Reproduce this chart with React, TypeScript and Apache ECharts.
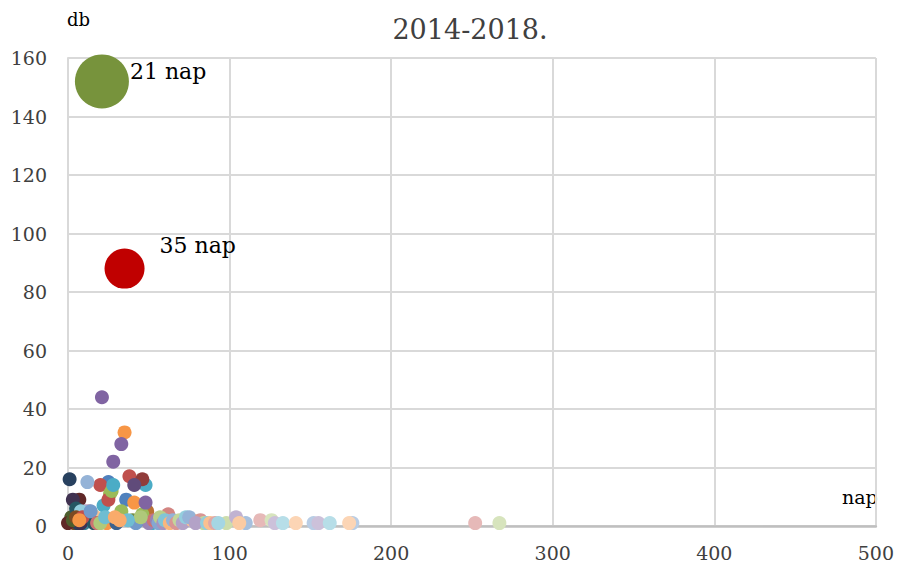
import React, { useEffect, useRef } from "react";
import * as echarts from "echarts";

// Days (x) and counts (y) for every small point (Excel-style point order)
const days = [
  1, 7, 2, 3, 5, 4,
  25, 20, 26, 21, 22, 24,
  12, 13, 15, 11, 8, 17,
  19, 25, 27, 28, 28, 35,
  36, 38, 33, 33, 48, 41,
  30, 46, 40, 41, 10, 49,
  6, 0, 3, 8, 16, 5,
  44, 9, 46, 48, 52, 7,
  14, 18, 20, 50, 23, 29,
  42, 53, 45, 55, 37, 32,
  56, 62, 57, 59, 60, 63,
  65, 67, 69, 71, 73, 77,
  75, 82, 84, 79, 86, 88,
  110, 91, 98, 104, 93, 106,
  152, 119, 126, 128, 133, 141,
  176, 252, 267, 155, 162, 174,
];
const counts = [
  16, 9, 3, 9, 6, 1,
  15, 14, 11, 44, 7, 1,
  15, 5, 4, 5, 5, 3,
  1, 9, 12, 22, 14, 32,
  9, 17, 5, 28, 14, 8,
  1, 16, 2, 14, 1, 5,
  1, 1, 2, 1, 1, 3,
  2, 3, 4, 8, 1, 2,
  5, 1, 1, 1, 3, 3,
  1, 2, 3, 2, 2, 2,
  1, 4, 3, 1, 2, 1,
  2, 1, 2, 1, 3, 2,
  3, 2, 1, 1, 1, 1,
  1, 1, 1, 3, 1, 1,
  1, 2, 2, 1, 1, 1,
  1, 1, 1, 1, 1, 1,
];

// The two highlighted bubbles
const highlightDays = [21, 35];
const highlightCounts = [152, 88];

const xTicks = [0, 100, 200, 300, 400, 500];
const yTicks = [0, 20, 40, 60, 80, 100, 120, 140, 160];

const TITLE = "2014-2018.";
const Y_NAME = "db";
const X_NAME = "nap";

const FONT = "'DejaVu Serif', Georgia, serif";
const ACCENTS = ["#4F81BD", "#C0504D", "#9BBB59", "#8064A2", "#4BACC6", "#F79646"];
const LEVELS = [-0.5, 0, 0.4, 0, 0, -0.25, -0.5, 0, 0.2, 0.2, 0.3, 0.4, 0.4, 0.5, 0.6, 0.6];

function adjust(hex: string, t: number): string {
  const n = parseInt(hex.slice(1), 16);
  const ch = [(n >> 16) & 255, (n >> 8) & 255, n & 255].map((c) =>
    Math.round(t >= 0 ? c + (255 - c) * t : c * (1 + t))
  );
  return "#" + ch.map((c) => c.toString(16).padStart(2, "0")).join("");
}

function pointColor(i: number): string {
  const g = Math.floor(i / 6);
  return adjust(ACCENTS[i % 6], LEVELS[Math.min(g, LEVELS.length - 1)]);
}

const highlightColors = ["#77933C", "#C00000"];
const highlightSizes = [54, 40];
const highlightOffsets = [[-4, -10], [10, -23]];

export default function App() {
  const ref = useRef<HTMLDivElement>(null);
  useEffect(() => {
    document.body.style.margin = "0";
    if (!ref.current) return;
    const chart = echarts.init(ref.current, null, { renderer: "svg" });
    const axisLabel = { fontFamily: FONT, fontSize: 19, color: "#404040" };
    chart.setOption({
      animation: false,
      backgroundColor: "#ffffff",
      title: {
        text: TITLE,
        left: 465,
        top: 11,
        textAlign: "center",
        textStyle: { fontFamily: FONT, fontSize: 27, fontWeight: "normal", color: "#404040" },
      },
      grid: { left: 68, right: 21, top: 58, bottom: 43, containLabel: false },
      xAxis: {
        type: "value",
        min: xTicks[0],
        max: xTicks[xTicks.length - 1],
        interval: xTicks[1] - xTicks[0],
        axisLine: { show: true, lineStyle: { color: "#BFBFBF", width: 2.5 } },
        axisTick: { show: false },
        splitLine: { show: true, lineStyle: { color: "#D9D9D9", width: 2 } },
        axisLabel: { ...axisLabel, margin: 17 },
      },
      yAxis: {
        type: "value",
        min: yTicks[0],
        max: yTicks[yTicks.length - 1],
        interval: yTicks[1] - yTicks[0],
        axisLine: { show: true, lineStyle: { color: "#D9D9D9", width: 2 } },
        axisTick: { show: false },
        splitLine: { show: true, lineStyle: { color: "#D9D9D9", width: 2 } },
        axisLabel: { ...axisLabel, margin: 21 },
      },
      graphic: [
        {
          type: "text",
          left: 67,
          top: 10,
          style: { text: Y_NAME, font: `18px ${FONT}`, fill: "#000000" },
        },
        {
          type: "text",
          left: 842,
          top: 487,
          style: { text: X_NAME, font: `19px ${FONT}`, fill: "#000000" },
        },
      ],
      series: [
        {
          type: "scatter",
          symbolSize: 14,
          data: days.map((d, i) => ({
            value: [d, counts[i]],
            itemStyle: { color: pointColor(i), opacity: 1 },
          })),
        },
        {
          type: "scatter",
          data: highlightDays.map((d, i) => ({
            value: [d, highlightCounts[i]],
            symbolSize: highlightSizes[i],
            itemStyle: { color: highlightColors[i], opacity: 1 },
            label: {
              show: true,
              position: "right",
              offset: highlightOffsets[i],
              formatter: `${d} nap`,
              fontFamily: FONT,
              fontSize: 22,
              color: "#000000",
            },
          })),
        },
      ],
    });
    return () => chart.dispose();
  }, []);
  return <div ref={ref} style={{ width: 897, height: 569 }} />;
}
